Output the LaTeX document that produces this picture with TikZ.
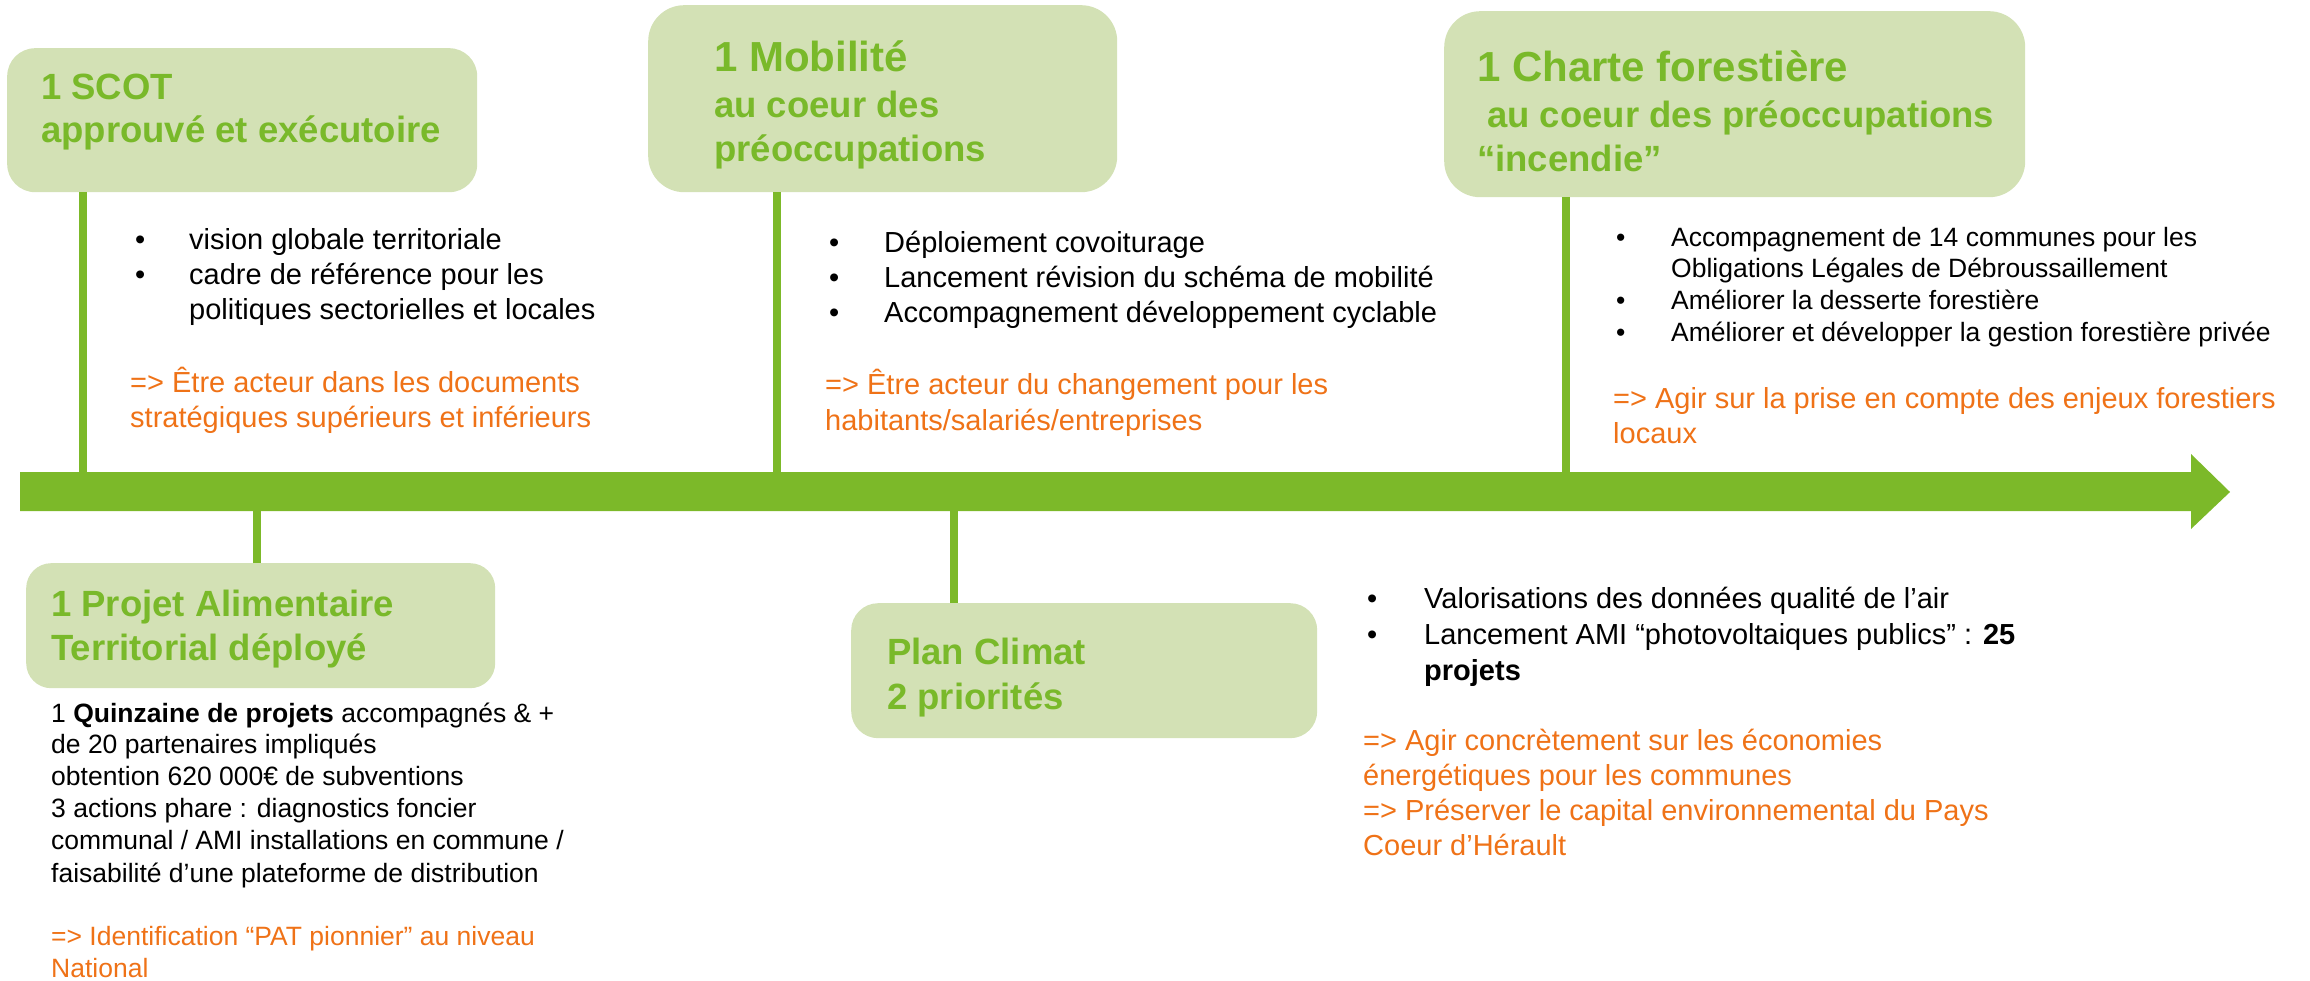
\documentclass[tikz,border=0pt]{standalone}
\usepackage{fontspec}
\setmainfont{Liberation Sans}
\definecolor{boxfill}{HTML}{D3E1B5}
\definecolor{tgreen}{HTML}{79B92A}
\definecolor{axisgreen}{HTML}{7CB929}
\definecolor{orng}{HTML}{EF7217}
\tikzset{
  tbox/.style={draw=none, fill=boxfill, anchor=north west, inner sep=0pt, rectangle},
  ttl/.style={anchor=base west, inner sep=0pt, text=tgreen, font=\fontsize{36.5}{40}\selectfont\bfseries},
  ttlbig/.style={ttl, font=\fontsize{42}{46}\selectfont\bfseries},
  body/.style={anchor=base west, inner sep=0pt, font=\fontsize{29}{35}\selectfont},
  bodys/.style={anchor=base west, inner sep=0pt, font=\fontsize{26.5}{32}\selectfont},
  ornge/.style={body, text=orng},
  orngs/.style={bodys, text=orng},
  conn/.style={draw=axisgreen, line width=8pt},
}
\begin{document}
\begin{tikzpicture}[x=1pt,y=-1pt]
\useasboundingbox (0,0) rectangle (2310,981);
% boxes
\node[tbox, minimum width=470pt, minimum height=144pt, rounded corners=28pt] (scotbox) at (7,48) {};
\node[tbox, minimum width=469pt, minimum height=187pt, rounded corners=36pt] (mobbox) at (648,5) {};
\node[tbox, minimum width=581pt, minimum height=186pt, rounded corners=36pt] (chbox) at (1444,11) {};
\node[tbox, minimum width=469pt, minimum height=125pt, rounded corners=25pt] (patbox) at (26,563) {};
\node[tbox, minimum width=466pt, minimum height=135pt, rounded corners=27pt] (pcbox) at (851,603) {};
% axis anchor points
\coordinate (aS) at (83,492);
\coordinate (aM) at (777,492);
\coordinate (aC) at (1566,492);
\coordinate (aP) at (257,492);
\coordinate (aK) at (954,492);
% connectors
\draw[conn] (scotbox.south -| aS) -- (aS);
\draw[conn] (mobbox.south -| aM) -- (aM);
\draw[conn] (chbox.south -| aC) -- (aC);
\draw[conn] (patbox.north -| aP) -- (aP);
\draw[conn] (pcbox.north -| aK) -- (aK);
% axis
\fill[axisgreen] (20,472) -- (2191,472) -- (2191,454) -- (2230,492) -- (2191,529) -- (2191,511) -- (20,511) -- cycle;
% SCOT
\node[ttl] (t1a) at (41,100) {1 SCOT};
\node[ttl] (t1b) at (41,143) {approuvé et exécutoire};
\node[body] (s1b) at (135,250) {•};
\node[body] (s1) at (189,250) {vision globale territoriale};
\node[body] (s2b) at (135,285) {•};
\node[body] (s2) at (189,285) {cadre de référence pour les};
\node[body] (s3) at (189,320) {politiques sectorielles et locales};
\node[ornge] (so1) at (130,392) {=> Être acteur dans les documents};
\node[ornge] (so2) at (130,427) {stratégiques supérieurs et inférieurs};
% Mobilite
\node[ttlbig] (t2a) at (714,72) {1 Mobilité};
\node[ttl] (t2b) at (714,118) {au coeur des};
\node[ttl] (t2c) at (714,162) {préoccupations};
\node[body] (m1b) at (829,253) {•};
\node[body] (m1) at (884,253) {Déploiement covoiturage};
\node[body] (m2b) at (829,288) {•};
\node[body] (m2) at (884,288) {Lancement révision du schéma de mobilité};
\node[body] (m3b) at (829,323) {•};
\node[body] (m3) at (884,323) {Accompagnement développement cyclable};
\node[ornge] (mo1) at (825,395) {=> Être acteur du changement pour les};
\node[ornge] (mo2) at (825,430) {habitants/salariés/entreprises};
% Charte
\node[ttlbig] (t3a) at (1477,82) {1 Charte forestière};
\node[ttl] (t3b) at (1487,128) {au coeur des préoccupations};
\node[ttl] (t3c) at (1477,172) {“incendie”};
\node[bodys] (c1b) at (1616,247) {•};
\node[bodys] (c1) at (1671,247) {Accompagnement de 14 communes pour les};
\node[bodys] (c2) at (1671,278) {Obligations Légales de Débroussaillement};
\node[bodys] (c3b) at (1616,310) {•};
\node[bodys] (c3) at (1671,310) {Améliorer la desserte forestière};
\node[bodys] (c4b) at (1616,342) {•};
\node[bodys] (c4) at (1671,342) {Améliorer et développer la gestion forestière privée};
\node[ornge] (co1) at (1613,408) {=> Agir sur la prise en compte des enjeux forestiers};
\node[ornge] (co2) at (1613,443) {locaux};
% PAT
\node[ttl] (t4a) at (51,616) {1 Projet Alimentaire};
\node[ttl] (t4b) at (51,660) {Territorial déployé};
\node[bodys] (p1) at (51,722) {1 \textbf{Quinzaine de projets} accompagnés \& +};
\node[bodys] (p2) at (51,753) {de 20 partenaires impliqués};
\node[bodys] (p3) at (51,785) {obtention 620 000€ de subventions};
\node[bodys] (p4) at (51,817) {3 actions phare : diagnostics foncier};
\node[bodys] (p5) at (51,849) {communal / AMI installations en commune /};
\node[bodys] (p6) at (51,882) {faisabilité d’une plateforme de distribution};
\node[orngs] (po1) at (51,945) {=> Identification “PAT pionnier” au niveau};
\node[orngs] (po2) at (51,977) {National};
% Plan Climat
\node[ttl] (t5a) at (887,664) {Plan Climat};
\node[ttl] (t5b) at (887,709) {2 priorités};
\node[body] (k1b) at (1367,608) {•};
\node[body] (k1) at (1424,608) {Valorisations des données qualité de l’air};
\node[body] (k2b) at (1367,644) {•};
\node[body] (k2) at (1424,644) {Lancement AMI “photovoltaiques publics” : \textbf{25}};
\node[body] (k3) at (1424,680) {\textbf{projets}};
\node[ornge] (ko1) at (1363,750) {=> Agir concrètement sur les économies};
\node[ornge] (ko2) at (1363,785) {énergétiques pour les communes};
\node[ornge] (ko3) at (1363,820) {=> Préserver le capital environnemental du Pays};
\node[ornge] (ko4) at (1363,855) {Coeur d’Hérault};
\end{tikzpicture}
\end{document}
